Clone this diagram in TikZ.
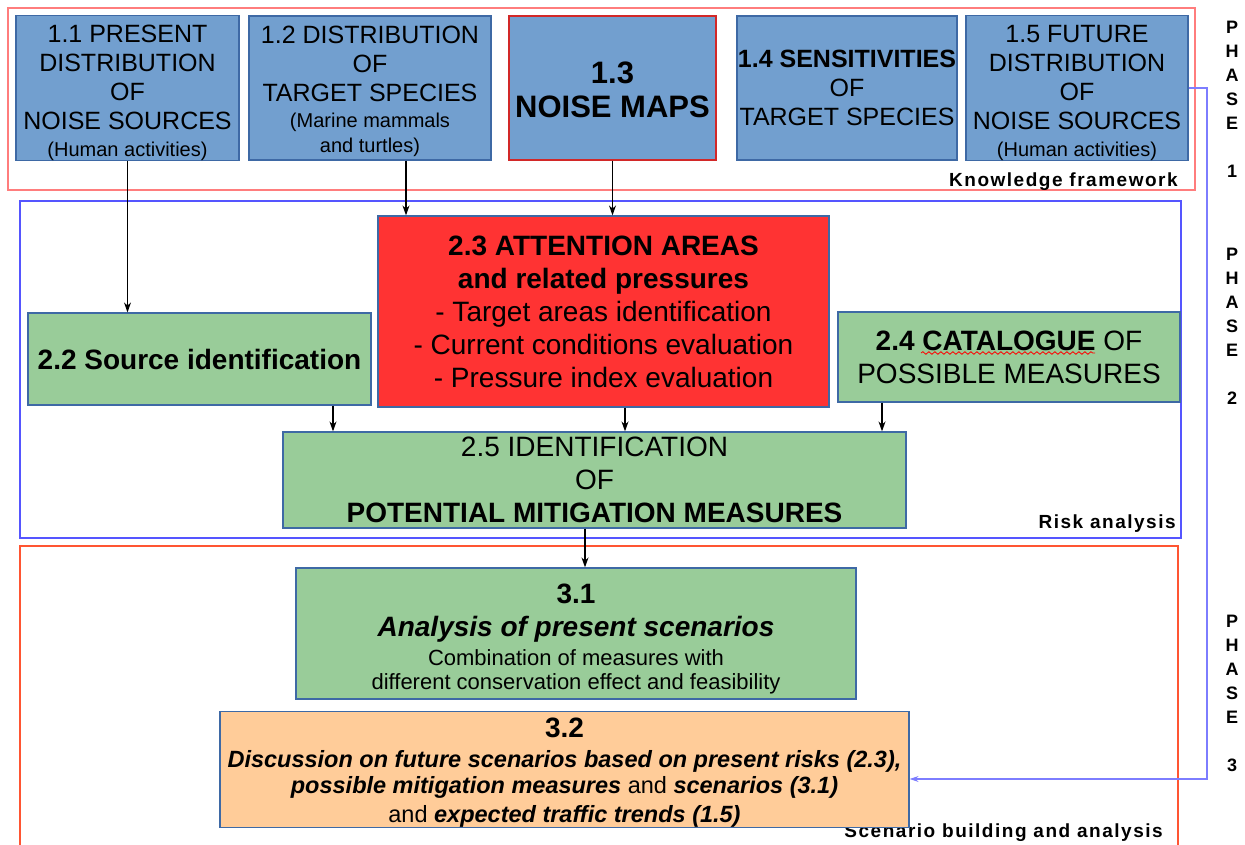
\documentclass[tikz,border=0pt]{standalone}
\usepackage{fontspec}
\setmainfont{Liberation Sans}
\newfontfamily\spacedsans[LetterSpace=8]{Liberation Sans}
\usetikzlibrary{arrows.meta,decorations.pathmorphing}
\definecolor{knowblue}{RGB}{114,159,207}
\definecolor{knowline}{RGB}{62,105,165}
\definecolor{riskgreen}{RGB}{153,204,153}
\definecolor{riskred}{RGB}{255,51,51}
\definecolor{mapline}{RGB}{210,40,40}
\definecolor{scenorange}{RGB}{255,204,153}
\definecolor{frameone}{RGB}{255,125,125}
\definecolor{frametwo}{RGB}{85,85,255}
\definecolor{framethree}{RGB}{255,85,50}
\definecolor{phaselink}{RGB}{125,125,255}
\newcommand\smalltxt{\fontsize{20}{24}\selectfont}
\newcommand\midtxt{\fontsize{22}{25}\selectfont}
\newcommand\ittxt{\fontsize{23.5}{27.5}\selectfont}
\newcommand\bigtxt{\fontsize{28}{33}\selectfont}
\newcommand\bfit[1]{\textbf{\textit{#1}}}
\newcommand\toppad[1]{\rule{0pt}{#1pt}}

\begin{document}
\begin{tikzpicture}[x=1pt, y=-1pt,
    box/.style={draw=knowline, line width=1.2pt, align=center, inner sep=0pt, font=\fontsize{25}{29}\selectfont},
    know/.style={box, fill=knowblue, minimum height=144},
    risk/.style={box, fill=riskgreen, font=\bigtxt},
    frame/.style={draw, line width=1.8pt, inner sep=0pt},
    lbl/.style={font=\fontsize{19}{22}\spacedsans\bfseries, anchor=base east, inner sep=0pt},
    phase/.style={font=\fontsize{18}{24}\selectfont\bfseries, align=center, inner sep=0pt},
    arr/.style={-{Stealth[length=10pt,width=7pt]}, line width=1.3pt}]

    \path[use as bounding box, fill=white] (0,0) rectangle (1245,845);
    \clip (0,0) rectangle (1245,845);

    \node[frame, draw=frameone, minimum width=1187, minimum height=182] (kf) at (601.5,99) {};
    \node[frame, draw=frametwo, minimum width=1161, minimum height=337] (ra) at (600.5,369.5) {};
    \node[frame, draw=framethree, minimum width=1158, minimum height=309] (sb) at (599,700.5) {};
    \node[lbl] at ([xshift=-18pt,yshift=4pt]kf.south east) {Knowledge framework};
    \node[lbl] at ([xshift=-6pt,yshift=10pt]ra.south east) {Risk analysis};
    \node[lbl] at ([xshift=-16pt,yshift=18pt]sb.south east) {Scenario building and analysis};

    \node[phase] (p1) at (1232,99) {P\\H\\A\\S\\E\\[24pt]1};
    \node[phase] (p2) at (1232,326.5) {P\\H\\A\\S\\E\\[24pt]2};
    \node[phase] (p3) at (1232,693.5) {P\\H\\A\\S\\E\\[24pt]3};

    \node[know, minimum width=223] (n11) at (127.5,88)
        {\toppad{27}1.1 PRESENT\\DISTRIBUTION\\OF\\NOISE SOURCES\\[-2pt]\smalltxt (Human activities)};
    \node[know, minimum width=242] (n12) at (370,88)
        {\toppad{24}1.2 DISTRIBUTION\\OF\\TARGET SPECIES\\[-3pt]\smalltxt (Marine mammals\\[-4pt]\smalltxt and turtles)};
    \node[know, draw=mapline, minimum width=207, font=\fontsize{31}{34}\selectfont\bfseries] (n13) at (612.5,88)
        {\toppad{26}1.3\\NOISE MAPS};
    \node[know, minimum width=220] (n14) at (847,88)
        {\textbf{1.4 SENSITIVITIES}\\OF\\TARGET SPECIES};
    \node[know, minimum width=222] (n15) at (1077,88)
        {\toppad{27}1.5 FUTURE\\DISTRIBUTION\\OF\\NOISE SOURCES\\[-2pt]\smalltxt (Human activities)};

    \node[risk, fill=riskred, minimum width=451, minimum height=191] (n23) at (603.5,311.5)
        {\textbf{2.3 ATTENTION AREAS}\\\textbf{and related pressures}\\- Target areas identification\\- Current conditions evaluation\\- Pressure index evaluation};
    \node[risk, minimum width=343, minimum height=92] (n22) at (199.5,359)
        {\textbf{2.2 Source identification}};
    \node[risk, minimum width=342, minimum height=90] (n24) at (1009,357)
        {\textbf{2.4 CATALOGUE} OF\\POSSIBLE MEASURES};
    \node[risk, minimum width=623, minimum height=96] (n25) at (594.5,480)
        {2.5 IDENTIFICATION\\OF\\\textbf{POTENTIAL MITIGATION MEASURES}};
    \draw[red, line width=0.8pt, decorate, decoration={snake, amplitude=1.3pt, segment length=6pt}]
        ([shift={(-88,-4)}]n24.center) -- ([shift={(86,-4)}]n24.center);

    \node[risk, minimum width=560, minimum height=131] (n31) at (576,633.5)
        {\toppad{30}\textbf{3.1}\\\bfit{Analysis of present scenarios}\\[-4pt]\midtxt Combination of measures with\\[-9pt]\midtxt different conservation effect and feasibility};
    \node[risk, fill=scenorange, minimum width=689, minimum height=115] (n32) at (564.5,769.5)
        {\toppad{26}\textbf{3.2}\\[-3pt]\ittxt\bfit{Discussion on future scenarios based on present risks (2.3),}\\[-7pt]\ittxt\bfit{possible mitigation measures} and \bfit{scenarios (3.1)}\\[-4pt]\ittxt and \bfit{expected traffic trends (1.5)}};

    \foreach \src/\dx/\dst in {n11/0/n22, n12/36/n23, n13/0/n23, n22/133.5/n25, n23/21.5/n25, n24/-127/n25, n25/-9.5/n31}
        \draw[arr] ([xshift=\dx pt]\src.south) coordinate (s) -- (s |- \dst.north);

    \coordinate (turn) at (1207,779);
    \draw[phaselink, line width=1.2pt, -{Stealth[length=9pt,width=6pt]}] (n15.east) -| (turn) -- (turn -| n32.east);
\end{tikzpicture}
\end{document}
